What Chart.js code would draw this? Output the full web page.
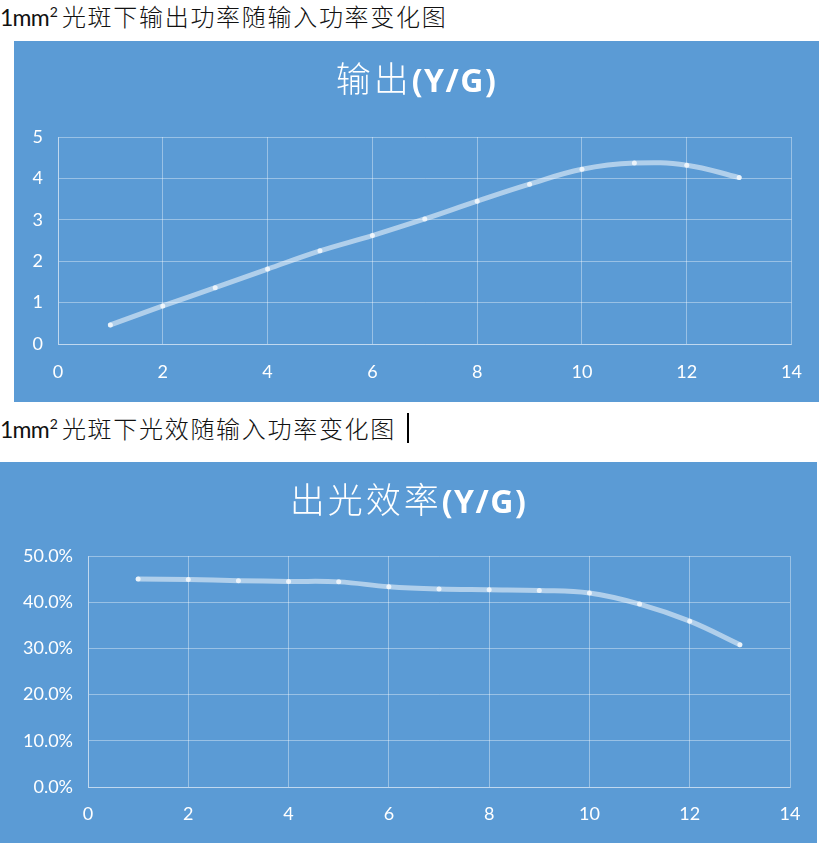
<!DOCTYPE html>
<html>
<head>
<meta charset="utf-8">
<script src="https://cdn.jsdelivr.net/npm/chart.js@4.4.1/dist/chart.umd.min.js"></script>
<style>
  html, body { margin: 0; padding: 0; background: #fff; width: 821px; height: 843px; overflow: hidden; }
  .hdr { position: absolute; left: 0; height: 32px; line-height: 32px; white-space: nowrap; color: #111; }
  .hdr .lat { font-family: Lato, "Open Sans", sans-serif; font-size: 23px; font-weight: 400; letter-spacing: -0.8px; }
  .hdr sup { font-family: Lato, sans-serif; font-size: 14px; vertical-align: 9px; line-height: 0; margin-left: 1px; }
  .hdr .cjk { font-family: "Noto Sans CJK SC", sans-serif; font-size: 24px; font-weight: 300; letter-spacing: 1.7px; margin-left: 4px; }
  .cursor { position: absolute; left: 407px; top: 413px; width: 2px; height: 30px; background: #000; }
  .box { position: absolute; background: #5B9BD5; }
  .box canvas { position: absolute; left: 0; top: 0; }
  .title { position: absolute; left: 0; right: 0; top: 16px; height: 40px; line-height: 40px; text-align: center; color: #fff; white-space: nowrap; }
  .title .cjk { font-family: "Noto Sans CJK SC", sans-serif; font-size: 35px; font-weight: 300; letter-spacing: 3px; }
  .title .lat { font-family: "Open Sans", Lato, sans-serif; font-size: 32px; font-weight: 700; letter-spacing: 1.5px; }
</style>
</head>
<body>
<div class="hdr" style="top:0px;"><span class="lat">1mm</span><sup>2</sup><span class="cjk">光斑下输出功率随输入功率变化图</span></div>
<div class="box" style="left:14px; top:41px; width:805px; height:361px;">
  <canvas id="c1"></canvas>
  <div class="title"><span class="cjk">输出</span><span class="lat">(Y/G)</span></div>
</div>
<div class="hdr" style="top:412px;"><span class="lat">1mm</span><sup>2</sup><span class="cjk">光斑下光效随输入功率变化图</span></div>
<div class="cursor"></div>
<div class="box" style="left:0px; top:462px; width:817px; height:381px;">
  <canvas id="c2"></canvas>
  <div class="title"><span class="cjk">出光效率</span><span class="lat">(Y/G)</span></div>
</div>
<script>
// ---- data ----
const inputPower = [1, 2, 3, 4, 5, 6, 7, 8, 9, 10, 11, 12, 13];
const outputValues = [0.46, 0.92, 1.36, 1.81, 2.25, 2.62, 3.02, 3.45, 3.86, 4.22, 4.37, 4.32, 4.02];
const efficiencyPercent = [45.0, 44.9, 44.65, 44.5, 44.4, 43.35, 42.85, 42.7, 42.55, 42.0, 39.6, 35.9, 30.8];
const xRange = [0, 14];
const xStep = 2;
const outputRange = [0, 5];
const outputStep = 1;
const effRange = [0, 50];
const effStep = 10;

const gridColor = 'rgba(255,255,255,0.38)';
const lineColor = 'rgba(255,255,255,0.52)';
const pointColor = 'rgba(255,255,255,0.75)';
const tickFont = { family: 'Lato, "Open Sans", sans-serif', size: 18 };

function makeChart(id, w, h, ys, yRange, yStep, yFmt, yWidth, xHeight, padTop, padRight, xPad) {
  const cv = document.getElementById(id);
  cv.width = w; cv.height = h;
  cv.style.width = w + 'px'; cv.style.height = h + 'px';
  return new Chart(cv, {
    type: 'line',
    data: {
      datasets: [{
        data: inputPower.map((x, i) => ({ x: x, y: ys[i] })),
        borderColor: lineColor,
        borderWidth: 5,
        borderCapStyle: 'round',
        tension: 0.4,
        pointRadius: 2.5,
        pointBorderWidth: 0,
        pointBackgroundColor: pointColor,
        fill: false
      }]
    },
    options: {
      responsive: false,
      animation: false,
      devicePixelRatio: 1,
      layout: { padding: { top: padTop, right: padRight, left: 0, bottom: 0 } },
      plugins: { legend: { display: false }, title: { display: false }, tooltip: { enabled: false } },
      scales: {
        x: {
          type: 'linear', min: xRange[0], max: xRange[1],
          ticks: { stepSize: xStep, color: '#fff', font: tickFont, padding: xPad, maxRotation: 0, autoSkip: false },
          grid: { color: gridColor, lineWidth: 1, drawTicks: false },
          border: { color: gridColor, width: 1 },
          afterFit: s => { s.height = xHeight; }
        },
        y: {
          type: 'linear', min: yRange[0], max: yRange[1],
          ticks: { stepSize: yStep, color: '#fff', font: tickFont, padding: 15, callback: yFmt },
          grid: { color: gridColor, lineWidth: 1, drawTicks: false },
          border: { color: gridColor, width: 1 },
          afterFit: s => { s.width = yWidth; }
        }
      }
    }
  });
}

makeChart('c1', 805, 361, outputValues, outputRange, outputStep, v => String(v), 44, 58, 96, 27, 17);
makeChart('c2', 817, 381, efficiencyPercent, effRange, effStep, v => v.toFixed(1) + '%', 88, 56, 94, 27, 16);
</script>
</body>
</html>
